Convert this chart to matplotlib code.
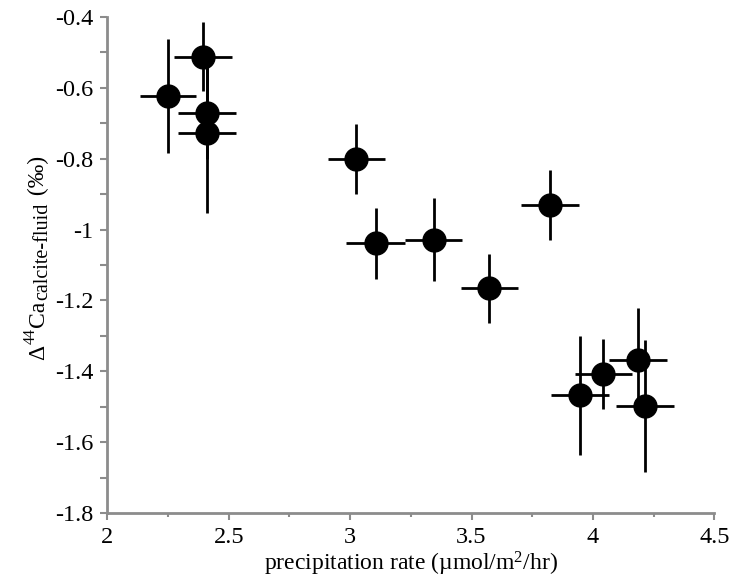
import matplotlib
matplotlib.use("Agg")
import matplotlib.pyplot as plt
from matplotlib.ticker import FixedLocator, FixedFormatter, MultipleLocator

plt.rcParams['font.family'] = ['Liberation Serif', 'DejaVu Serif']
plt.rcParams['mathtext.fontset'] = 'custom'
plt.rcParams['mathtext.rm'] = 'Liberation Serif'
plt.rcParams['mathtext.it'] = 'Liberation Serif:italic'

# precipitation rate (umol/m2/hr) and Delta44Ca (permil)
rate = [2.25, 2.394, 2.412, 2.412, 3.026, 3.105, 3.344, 3.573, 3.823, 3.947, 4.043, 4.186, 4.215]
d44ca = [-0.623, -0.512, -0.67, -0.728, -0.801, -1.039, -1.028, -1.166, -0.931, -1.468, -1.408, -1.368, -1.498]
rate_err = [0.117, 0.119, 0.12, 0.12, 0.119, 0.12, 0.117, 0.118, 0.118, 0.119, 0.118, 0.118, 0.121]
d44ca_err = [0.16, 0.098, 0.13, 0.225, 0.098, 0.1, 0.117, 0.098, 0.099, 0.169, 0.098, 0.148, 0.186]

xticks = [2, 2.5, 3, 3.5, 4, 4.5]
xtick_labels = ['2', '2.5', '3', '3.5', '4', '4.5']
yticks = [-1.8, -1.6, -1.4, -1.2, -1.0, -0.8, -0.6, -0.4]
ytick_labels = ['-1.8', '-1.6', '-1.4', '-1.2', '-1', '-0.8', '-0.6', '-0.4']

# y label pieces: text, font size, baseline shift in px (negative = superscript)
ylabel_parts = [('\u0394', 17, 0), ('44', 11.5, -9), ('Ca', 17, 0),
                ('calcite-fluid', 14.5, 3), (' (\u2030)', 17, 0)]

fig = plt.figure(figsize=(7.3, 5.87), dpi=100)
ax = fig.add_axes([0.147, 0.126, 0.8315, 0.845])

ax.plot(rate, d44ca, 'o', color='black', markersize=16.5, zorder=2)
ax.errorbar(rate, d44ca, xerr=rate_err, yerr=d44ca_err, fmt='none',
            ecolor='black', elinewidth=2, capsize=0, zorder=3)

ax.set_xlim(2, 4.5)
ax.set_ylim(-1.8, -0.4)

ax.xaxis.set_major_locator(FixedLocator(xticks))
ax.xaxis.set_major_formatter(FixedFormatter(xtick_labels))
ax.xaxis.set_minor_locator(MultipleLocator(0.25))
ax.yaxis.set_major_locator(FixedLocator(yticks))
ax.yaxis.set_major_formatter(FixedFormatter(ytick_labels))
ax.yaxis.set_minor_locator(MultipleLocator(0.1))

grey = '#8c8c8c'
for side in ['top', 'right']:
    ax.spines[side].set_visible(False)
for side in ['left', 'bottom']:
    ax.spines[side].set_color(grey)
    ax.spines[side].set_linewidth(2)

ax.tick_params(which='major', direction='out', length=5, width=1.5, color=grey,
               labelsize=17.5, pad=5)
ax.tick_params(which='minor', direction='out', length=3, width=1.5, color=grey)
ax.tick_params(axis='y', which='minor', length=5)

ax.set_xlabel('precipitation rate (\u00b5mol/m$^2$/hr)', fontsize=17, labelpad=1)

# build the rotated y label piece by piece so the subscript can be sized freely
renderer = fig.canvas.get_renderer()
W, H = fig.bbox.width, fig.bbox.height
x_base = 44
y_pos = H - 360
for txt, size, shift in ylabel_parts:
    t = fig.text((x_base + shift) / W, y_pos / H, txt, rotation=90,
                 rotation_mode='anchor', ha='left', va='baseline', fontsize=size)
    y_pos += t.get_window_extent(renderer).height + 1

fig.savefig('out.png', dpi=100)
